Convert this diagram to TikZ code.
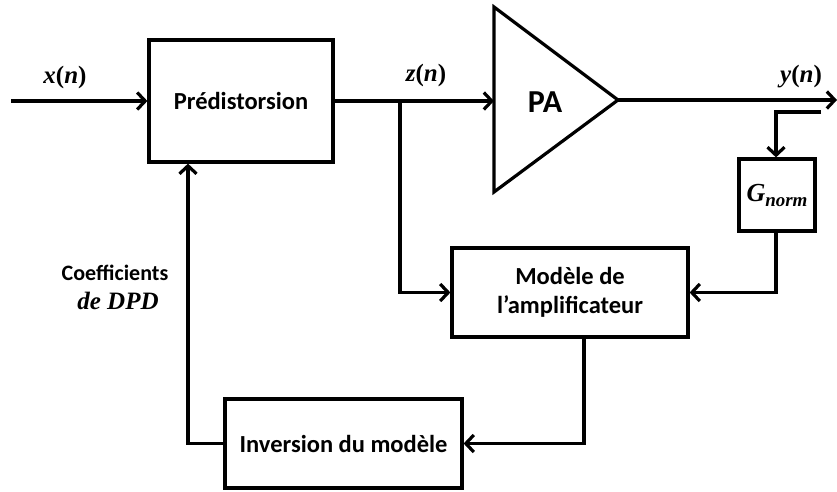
\documentclass[tikz,border=0pt]{standalone}
\usepackage{fontspec}
\setmainfont{Carlito}
\newfontfamily\mfont{Liberation Serif}
\usetikzlibrary{arrows.meta}
\newcommand{\mvar}[1]{{\mfont\bfseries\itshape #1}}
\newcommand{\mpar}[1]{{\mfont\bfseries #1}}
\tikzset{
  blk/.style={draw, line width=3.2pt, rectangle, inner sep=0pt, align=center, font=\fontsize{24.5}{29}\selectfont\bfseries},
  wire/.style={line width=3.2pt},
  arr/.style={wire, -{Straight Barb[length=8pt,width=17pt,line width=3.2pt]}},
  lbl/.style={font=\fontsize{25}{29}\selectfont, inner sep=0pt},
}
\begin{document}
\begin{tikzpicture}[x=1pt,y=-1pt]
\useasboundingbox (0,0) rectangle (837,491);
% blocks
\node[blk, minimum width=184pt, minimum height=122pt] (pre) at (241,101) {Prédistorsion};
\node[blk, minimum width=76pt, minimum height=72pt, font=\fontsize{26}{30}\selectfont] (g) at (777,195) {\mvar{G}\raisebox{-5pt}{\fontsize{19}{22}\selectfont\mvar{norm}}};
\node[blk, minimum width=236pt, minimum height=89pt] (mod) at (570,292.5) {Modèle de\\l’amplificateur};
\node[blk, minimum width=237pt, minimum height=89pt] (inv) at (343.5,443.5) {Inversion du modèle};
% PA triangle
\coordinate (paL) at (494,101);
\coordinate (paR) at (618,100);
\draw[wire, line join=miter] (494,7) -- (paR) -- (494,192) -- cycle;
\node[font=\fontsize{32}{36}\selectfont\bfseries, inner sep=0pt] (pa) at (545,102) {PA};
% coordinates
\coordinate (in) at (11,101);
\coordinate (out) at (837,100);
\coordinate (br) at (400,101);
\coordinate (fbs) at (821,112);
\coordinate (fbc) at (776,112);
\coordinate (mx) at (584,0);
\coordinate (px) at (188,0);
% connectors
\draw[arr] (in) -- (pre.west |- in);
\draw[arr] (pre.east |- br) -- (paL);
\draw[arr] (paR) -- (out);
\draw[arr] (br) |- (mod.west);
\draw[arr] (fbs) -- (fbc) -- (g.north -| fbc);
\draw[arr] (g.south -| fbc) |- (mod.east);
\draw[arr] (mod.south -| mx) |- (inv.east);
\draw[arr] (inv.west) -| (pre.south -| px);
% labels
\node[lbl] (lx) at (65,77) {\mvar{x}\mpar{(}\mvar{n}\mpar{)}};
\node[lbl] (lz) at (426,75) {\mvar{z}\mpar{(}\mvar{n}\mpar{)}};
\node[lbl] (ly) at (801,77) {\mvar{y}\mpar{(}\mvar{n}\mpar{)}};
\node[font=\fontsize{22}{26}\selectfont\bfseries, inner sep=0pt] (c1) at (115,273) {Coefficients};
\node[lbl] (c2) at (118,301) {\mvar{de DPD}};
\end{tikzpicture}
\end{document}
